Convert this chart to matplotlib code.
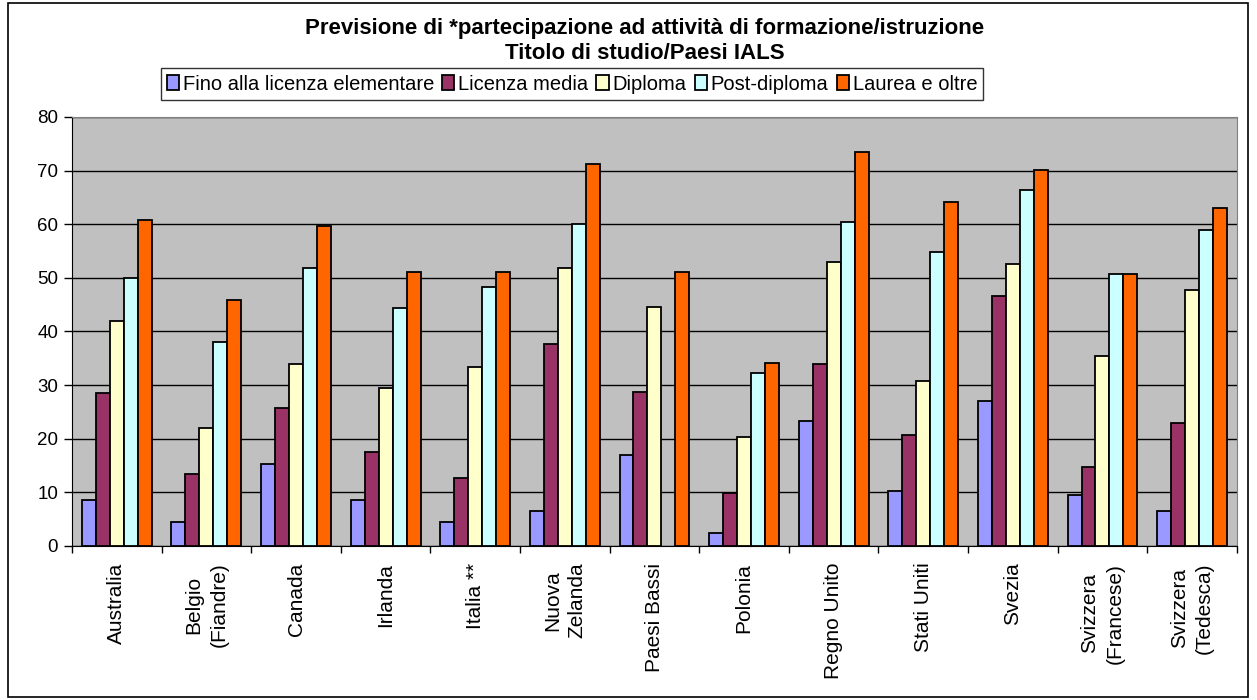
import numpy as np
import matplotlib
matplotlib.use('Agg')
import matplotlib.pyplot as plt
from matplotlib.patches import Rectangle

plt.rcParams['font.family'] = ['Liberation Sans', 'DejaVu Sans']

# Data
paesi = ['Australia', 'Belgio\n(Fiandre)', 'Canada', 'Irlanda', 'Italia **',
         'Nuova\nZelanda', 'Paesi Bassi', 'Polonia', 'Regno Unito', 'Stati Uniti',
         'Svezia', 'Svizzera\n(Francese)', 'Svizzera\n(Tedesca)']
serie = ['Fino alla licenza elementare', 'Licenza media', 'Diploma',
         'Post-diploma', 'Laurea e oltre']
elementare = [8.5, 4.5, 15.3, 8.5, 4.5, 6.6, 17.0, 2.5, 23.3, 10.3, 27.0, 9.6, 6.6]
media = [28.6, 13.4, 25.7, 17.5, 12.6, 37.7, 28.8, 9.9, 34.0, 20.7, 46.7, 14.8, 23.0]
diploma = [42.0, 22.0, 33.9, 29.4, 33.3, 51.9, 44.5, 20.3, 52.9, 30.7, 52.6, 35.5, 47.8]
post_diploma = [49.9, 38.0, 51.8, 44.3, 48.2, 60.0, np.nan, 32.2, 60.4, 54.8, 66.4, 50.8, 59.0]
laurea = [60.7, 45.8, 59.6, 51.0, 51.1, 71.2, 51.1, 34.1, 73.4, 64.2, 70.1, 50.8, 63.0]
colori = ['#9999FF', '#993366', '#FFFFCC', '#CCFFFF', '#FF6600']

valori = [elementare, media, diploma, post_diploma, laurea]

fig = plt.figure(figsize=(12.57, 7.0), dpi=100)
ax = fig.add_axes([0.0573, 0.22, 0.9267, 0.613])
ax.set_facecolor('#C0C0C0')

x = np.arange(len(paesi))
w = 0.156
for i, (vals, nome, col) in enumerate(zip(valori, serie, colori)):
    ax.bar(x + (i - 2) * w, vals, width=w, color=col, edgecolor='black',
           linewidth=1.3, label=nome, zorder=3)

ax.set_xlim(-0.5, len(paesi) - 0.5)
ax.set_ylim(0, 80)
ax.set_yticks(range(0, 81, 10))
ax.yaxis.grid(True, color='black', linewidth=1.0, zorder=1)
ax.tick_params(axis='y', labelsize=13.5, length=6, width=1, direction='out', pad=4)

# ticks between categories, labels centered
ax.set_xticks(np.arange(-0.5, len(paesi) + 0.5, 1))
ax.set_xticklabels([])
ax.set_xticks(x, minor=True)
ax.set_xticklabels(paesi, minor=True, rotation=90, fontsize=15,
                   va='top', ha='center', linespacing=1.4)
ax.tick_params(axis='x', which='major', length=5, width=1)
ax.tick_params(axis='x', which='minor', length=0, pad=12)

for s in ['top', 'right']:
    ax.spines[s].set_color('#808080')
ax.spines['left'].set_color('black')
ax.spines['bottom'].set_color('black')

fig.text(0.513, 0.959, 'Previsione di *partecipazione ad attività di formazione/istruzione',
         ha='center', va='center', fontsize=16, fontweight='bold')
fig.text(0.513, 0.924, 'Titolo di studio/Paesi IALS',
         ha='center', va='center', fontsize=16, fontweight='bold')

leg = fig.legend(loc='center', bbox_to_anchor=(0.455, 0.88), ncol=5, fontsize=14.5,
                 frameon=True, fancybox=False, edgecolor='black', handlelength=0.6,
                 handleheight=0.8, handletextpad=0.2, columnspacing=0.4,
                 borderpad=0.3, borderaxespad=0)
leg.get_frame().set_linewidth(1.0)

fig.patches.append(Rectangle((0.006, 0.004), 0.987, 0.992, transform=fig.transFigure,
                             fill=False, edgecolor='black', linewidth=1.2))

fig.savefig('out.png', dpi=100)
